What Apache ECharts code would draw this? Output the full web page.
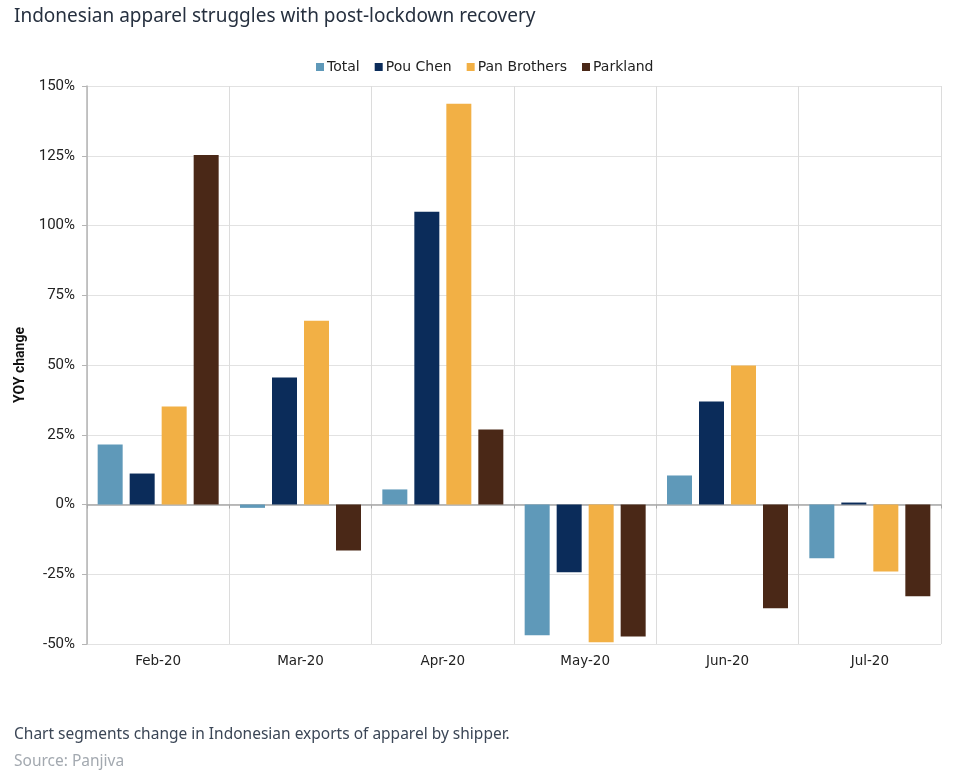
<!DOCTYPE html>
<html><head><meta charset="utf-8">
<script src="https://cdn.jsdelivr.net/npm/echarts@6/dist/echarts.min.js"></script>
<style>html,body{margin:0;padding:0;background:#fff}#c{width:955px;height:775px}</style>
</head><body><div id="c"></div>
<script>
const categories = ['Feb-20','Mar-20','Apr-20','May-20','Jun-20','Jul-20'];
const total = [21.5, -1.2, 5.4, -46.9, 10.4, -19.3];
const pouChen = [11.1, 45.5, 104.9, -24.3, 36.9, 0.7];
const panBrothers = [35.1, 65.9, 143.6, -49.4, 49.8, -24.0];
const parkland = [125.3, -16.5, 26.9, -47.3, -37.2, -32.9];
const yTicks = [-50, -25, 0, 25, 50, 75, 100, 125, 150];

const chart = echarts.init(document.getElementById('c'));
const mk = (name, data, color) => ({
  name, type: 'bar', data, xAxisIndex: 0, barWidth: 25, barGap: '28%',
  itemStyle: { color }
});
chart.setOption({
  animation: false,
  title: [
    { text: 'Indonesian apparel struggles with post-lockdown recovery', left: 9, top: 2,
      textStyle: { fontFamily: 'Noto Sans', fontSize: 19, fontWeight: 'normal', color: '#26303f' } },
    { text: 'Chart segments change in Indonesian exports of apparel by shipper.', left: 9, top: 722,
      textStyle: { fontFamily: 'Noto Sans', fontSize: 15.5, fontWeight: 'normal', color: '#3b4656' } },
    { text: 'Source: Panjiva', left: 9, top: 749,
      textStyle: { fontFamily: 'Noto Sans', fontSize: 15.5, fontWeight: 'normal', color: '#a3a9b0' } }
  ],
  legend: {
    top: 55, left: 311, itemWidth: 8, itemHeight: 8, itemGap: 15, icon: 'rect',
    textStyle: { fontFamily: 'DejaVu Sans', fontSize: 14, color: '#222', padding: [0,0,0,-2] },
    data: ['Total','Pou Chen','Pan Brothers','Parkland']
  },
  grid: { left: 87, right: 14, top: 86, bottom: 131, containLabel: false },
  xAxis: [
    { type: 'category', data: categories, position: 'bottom',
      axisLine: { show: false, onZero: false }, axisTick: { show: false },
      axisLabel: { fontFamily: 'DejaVu Sans', fontSize: 13.5, color: '#222', margin: 10 },
      splitLine: { show: true, lineStyle: { color: '#dcdcdc', width: 1 } } },
    { type: 'category', data: categories, position: 'bottom',
      axisLine: { show: true, onZero: true, lineStyle: { color: '#a8a8a8', width: 1.5 } },
      axisTick: { show: true, length: 4, lineStyle: { color: '#a8a8a8' } },
      axisLabel: { show: false }, splitLine: { show: false } }
  ],
  yAxis: {
    type: 'value', min: -50, max: 150, interval: 25,
    name: 'YOY change', nameLocation: 'middle', nameGap: 58, nameRotate: 90,
    nameTextStyle: { fontFamily: 'Roboto', fontSize: 14, fontWeight: 'bold', color: '#111' },
    axisLine: { show: true, lineStyle: { color: '#b5b5b5', width: 1.5 } },
    axisTick: { show: true, length: 5, lineStyle: { color: '#b5b5b5' } },
    axisLabel: { fontFamily: 'Roboto', fontSize: 15, color: '#222', margin: 12,
      formatter: v => yTicks.includes(v) ? v + '%' : '' },
    splitLine: { show: true, lineStyle: { color: '#e2e2e2', width: 1 } }
  },
  series: [
    mk('Total', total, '#5f99b9'),
    mk('Pou Chen', pouChen, '#0b2c5a'),
    mk('Pan Brothers', panBrothers, '#f2b045'),
    mk('Parkland', parkland, '#4a2817')
  ]
});
</script></body></html>
